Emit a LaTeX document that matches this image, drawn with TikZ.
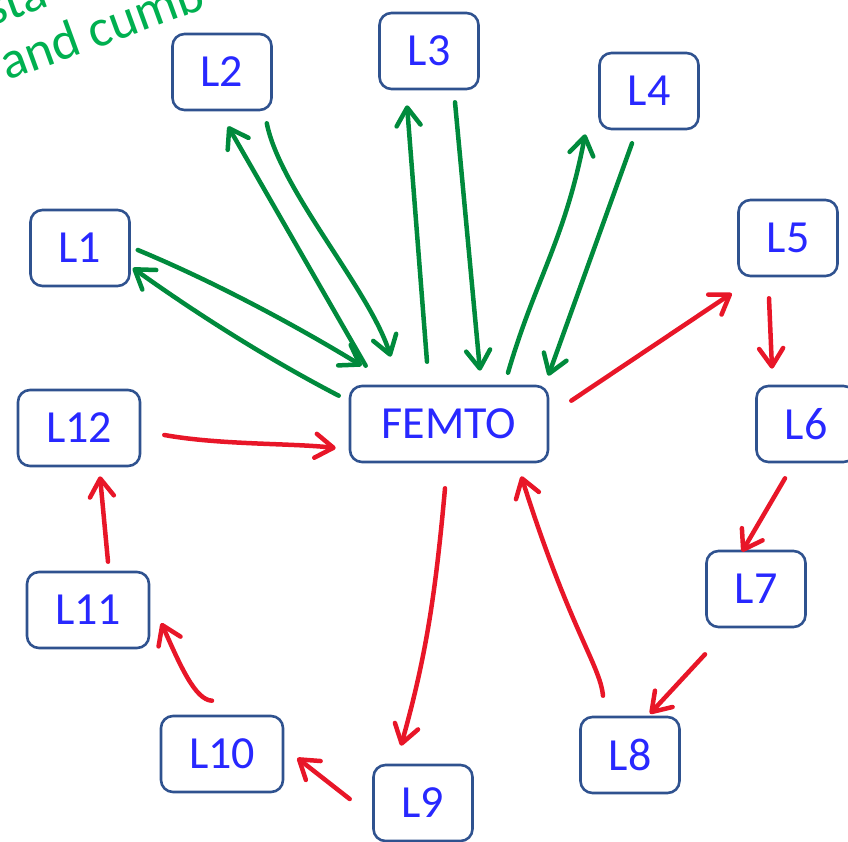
\documentclass[tikz,border=0pt]{standalone}
\usepackage{fontspec}
\setmainfont{Carlito}
\usetikzlibrary{arrows.meta}
\definecolor{boxline}{HTML}{2F528F}
\definecolor{boxtext}{RGB}{40,40,255}
\definecolor{inkgreen}{RGB}{0,138,60}
\definecolor{inkred}{RGB}{232,22,40}
\definecolor{notegreen}{HTML}{00B050}
\tikzset{
  lbox/.style={draw=boxline, line width=2.6pt, rounded corners=12pt, text=boxtext,
    font=\fontsize{46}{46}\selectfont, inner sep=0pt, minimum width=99pt, minimum height=76pt},
  wbox/.style={lbox, minimum width=122pt},
  fbox/.style={lbox, minimum width=198pt},
  note/.style={text=notegreen, font=\fontsize{53}{53}\selectfont, rotate=20, anchor=base west, inner sep=0pt},
  ink/.style={line width=4.5pt, line cap=round, line join=round,
    -{Straight Barb[length=18pt, width=24pt, line cap=round, line join=round]}},
  gink/.style={ink, draw=inkgreen},
  rink/.style={ink, draw=inkred},
}
\begin{document}
\begin{tikzpicture}[x=1pt, y=-1pt]
\useasboundingbox (0,0) rectangle (848,842);
\clip (0,0) rectangle (848,842);
% note text (cut off)
\node[note] (note1) at (-9,27) {sta};
\node[note] (note2) at (7,81) {and cumb};
% boxes
\node[lbox] (L1) at (80,248) {L1};
\node[lbox] (L2) at (222,72) {L2};
\node[lbox] (L3) at (429,51) {L3};
\node[lbox] (L4) at (649,91) {L4};
\node[lbox] (L5) at (788,238) {L5};
\node[lbox] (L6) at (806,424) {L6};
\node[lbox] (L7) at (756,589) {L7};
\node[lbox] (L8) at (630,755) {L8};
\node[lbox] (L9) at (423,803) {L9};
\node[wbox] (L10) at (222,754) {L10};
\node[wbox] (L11) at (88,610) {L11};
\node[wbox] (L12) at (79,428) {L12};
\node[fbox] (F) at (449,424) {FEMTO};
% green connectors
\draw[gink] ([shift={(7,2)}]L1.east) .. controls (210,280) and (290,322) .. ([shift={(13,-19)}]F.north west);
\draw[gink] ([shift={(-10,11)}]F.north west) .. controls (270,360) and (200,316) .. ([shift={(2,20)}]L1.east);
\draw[gink] ([shift={(17,-19)}]F.north west) -- ([shift={(6,15)}]L2.south);
\draw[gink] ([shift={(-6,12)}]L2.south east) .. controls (280,190) and (370,290) .. ([shift={(42,-28)}]F.north west);
\draw[gink] ([shift={(-22,-23)}]F.north) -- ([shift={(-22,15)}]L3.south);
\draw[gink] ([shift={(26,12)}]L3.south) -- ([shift={(31,-14)}]F.north);
\draw[gink] ([shift={(59,-12)}]F.north) .. controls (535,280) and (565,240) .. ([shift={(-13,4)}]L4.south west);
\draw[gink] ([shift={(-17,13)}]L4.south) -- ([shift={(-1,-9)}]F.north east);
% red connectors
\draw[rink] ([shift={(22,16)}]F.north east) -- ([shift={(-5.5,16)}]L5.south west);
\draw[rink] ([shift={(-19,21)}]L5.south) -- ([shift={(-34,-16)}]L6.north);
\draw[rink] ([shift={(-21,15)}]L6.south) -- ([shift={(-14,2)}]L7.north);
\draw[rink] ([shift={(-51,26)}]L7.south) -- ([shift={(20,-2)}]L8.north);
\draw[rink] ([shift={(-27,-20)}]L8.north) .. controls (600,665) and (570,630) .. ([shift={(-28,13)}]F.south east);
\draw[rink] ([shift={(-4,25)}]F.south) .. controls (435,600) and (425,660) .. ([shift={(-22,-18)}]L9.north);
\draw[rink] ([shift={(-22.5,-4)}]L9.west) -- ([shift={(13,4)}]L10.east);
\draw[rink] ([shift={(-10,-14)}]L10.north) .. controls (195,700) and (180,665) .. ([shift={(11,13)}]L11.east);
\draw[rink] ([shift={(20,-9)}]L11.north) -- ([shift={(21,9)}]L12.south);
\draw[rink] ([shift={(23,7)}]L12.east) .. controls (220,445) and (290,443) .. ([shift={(-13,24)}]F.west);
\end{tikzpicture}
\end{document}
